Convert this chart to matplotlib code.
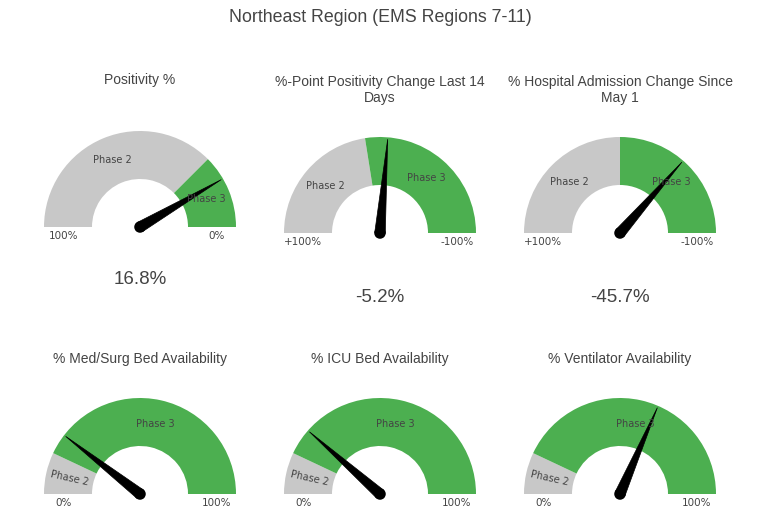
import matplotlib
matplotlib.use("Agg")
import matplotlib.pyplot as plt
import numpy as np
from matplotlib.patches import Wedge, Polygon, Circle

main_title = "Northeast Region (EMS Regions 7-11)"
titles = ["Positivity %",
          "%-Point Positivity Change Last 14\nDays",
          "% Hospital Admission Change Since\nMay 1",
          "% Med/Surg Bed Availability",
          "% ICU Bed Availability",
          "% Ventilator Availability"]
values = [16.8, -5.2, -45.7, 21, 23, 63]
show_value = [True, True, True, False, False, False]
left_vals = [100, 100, 100, 0, 0, 0]
right_vals = [0, -100, -100, 100, 100, 100]
left_labels = ["100%", "+100%", "+100%", "0%", "0%", "0%"]
right_labels = ["0%", "-100%", "-100%", "100%", "100%", "100%"]
thresholds = [25, 10, 0, 14, 14, 14]
phase_names = ["Phase 2", "Phase 3"]

GRAY = "#c8c8c8"
GREEN = "#4caf50"
TXT = "#444444"
W, H = 758, 517
R = 96  # gauge radius in px

# layout (pixels from top-left)
centers = [(140, 227), (380, 233), (620, 233), (140, 494), (380, 494), (620, 494)]
title_y = [80, 90, 90, 359, 359, 359]
value_y = [280, 297, 297, None, None, None]


def fx(px):
    return px / W


def fy(py):
    return 1 - py / H


fig = plt.figure(figsize=(W / 100, H / 100), dpi=100)
fig.patch.set_facecolor("white")
fig.text(fx(380), fy(18), main_title, ha="center", va="center",
         fontsize=12.8, color=TXT, family="Liberation Sans")

for i in range(6):
    cx, cy = centers[i]
    ax = fig.add_axes([fx(cx - 120), fy(cy + 70), 240 / W, 240 / H])
    ax.set_xlim(-120 / R, 120 / R)
    ax.set_ylim(-70 / R, 170 / R)
    ax.axis("off")

    lv, rv = left_vals[i], right_vals[i]

    def ang(v):
        return 180.0 * (v - rv) / (lv - rv)

    t = ang(thresholds[i])
    segs = [(t, 180.0, GRAY, phase_names[0]), (0.0, t, GREEN, phase_names[1])]
    for a1, a2, col, name in segs:
        ax.add_patch(Wedge((0, 0), 1.0, a1, a2, width=0.5, facecolor=col,
                           edgecolor="none"))
        mid = (a1 + a2) / 2
        rot = 0
        if a2 - a1 < 35:
            rot = mid - 180 if mid > 90 else mid
        ax.text(0.75 * np.cos(np.radians(mid)), 0.75 * np.sin(np.radians(mid)),
                name, ha="center", va="center", rotation=rot,
                fontsize=7, color=TXT, family="DejaVu Sans")

    # needle
    th = np.radians(ang(values[i]))
    tip = 0.98 * np.array([np.cos(th), np.sin(th)])
    perp = 0.055 * np.array([-np.sin(th), np.cos(th)])
    ax.add_patch(Polygon([perp, tip, -perp], closed=True, facecolor="black",
                         edgecolor="black", lw=0.5))
    ax.add_patch(Circle((0, 0), 0.06, facecolor="black", edgecolor="none"))

    ax.text(-0.8, -9 / R, left_labels[i], ha="center", va="center",
            fontsize=7.5, color=TXT, family="DejaVu Sans")
    ax.text(0.8, -9 / R, right_labels[i], ha="center", va="center",
            fontsize=7.5, color=TXT, family="DejaVu Sans")

    fig.text(fx(cx), fy(title_y[i]), titles[i], ha="center", va="center",
             fontsize=10, color=TXT, family="Liberation Sans", linespacing=1.15)
    if show_value[i]:
        fig.text(fx(cx), fy(value_y[i]), "%g%%" % values[i], ha="center",
                 va="center", fontsize=13.5, color=TXT, family="Liberation Sans")

fig.savefig("out.png", dpi=100, facecolor="white")
